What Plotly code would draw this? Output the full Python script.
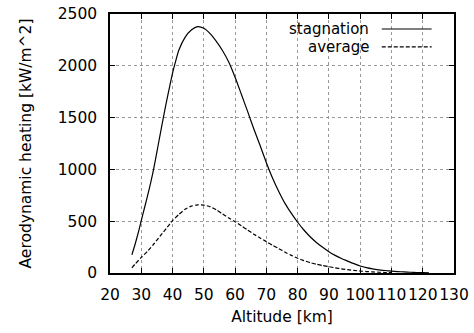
import plotly.graph_objects as go

# Data
alt_stag = [27, 28, 29, 30, 31, 32, 33, 34, 35, 36, 37, 38, 39, 40, 41, 42, 44, 46, 48, 50, 52,
            54, 56, 58, 60, 62, 64, 66, 68, 70, 72, 74, 76, 78, 80, 82, 84, 86, 88, 90, 92, 94,
            96, 98, 100, 102, 104, 106, 108, 110, 112, 114, 116, 118, 120, 122]
q_stag = [175, 275, 385, 505, 625, 745, 870, 1010, 1170, 1330, 1490, 1645, 1790, 1930, 2045,
          2150, 2275, 2345, 2378, 2362, 2310, 2235, 2145, 2035, 1890, 1725, 1560, 1390, 1230,
          1065, 915, 785, 670, 575, 490, 415, 350, 295, 248, 206, 170, 140, 115, 90, 68, 52, 40,
          31, 24, 19, 14, 10, 7, 5, 3, 2]

alt_avg = [27, 28, 30, 32, 34, 36, 38, 40, 42, 44, 46, 48, 50, 52, 54, 56, 58, 60, 62, 64, 66,
           68, 70, 72, 74, 76, 78, 80, 82, 84, 86, 88, 90, 92, 94, 96, 98, 100, 102, 104, 106,
           108, 110]
q_avg = [50, 85, 150, 210, 280, 355, 430, 505, 565, 615, 645, 658, 655, 640, 610, 570, 530, 495,
         455, 415, 375, 338, 303, 268, 235, 200, 170, 142, 120, 100, 85, 72, 61, 50, 40, 32, 25,
         19, 14, 10, 7, 5, 3]

x_ticks = [20, 30, 40, 50, 60, 70, 80, 90, 100, 110, 120, 130]
y_ticks = [0, 500, 1000, 1500, 2000, 2500]
series_names = ["stagnation", "average"]

FONT = "DejaVu Sans"
FS = 15.5

fig = go.Figure()
fig.add_trace(go.Scatter(x=alt_stag, y=q_stag, mode="lines", name=series_names[0],
                         line=dict(color="black", width=1.2, shape="spline", smoothing=0.6),
                         showlegend=False))
fig.add_trace(go.Scatter(x=alt_avg, y=q_avg, mode="lines", name=series_names[1],
                         line=dict(color="black", width=1.2, dash="4px,2px", shape="spline", smoothing=0.6),
                         showlegend=False))

# gnuplot-style legend: text right-aligned, line sample on the right
legend_rows = [(series_names[0], "solid", 0.942), (series_names[1], "4px,2px", 0.873)]
for name, dash, yy in legend_rows:
    fig.add_annotation(x=0.755, y=yy, xref="paper", yref="paper", text=name, showarrow=False,
                       xanchor="right", yanchor="middle", borderpad=0,
                       font=dict(family=FONT, size=15, color="black"))
    fig.add_shape(type="line", xref="paper", yref="paper", x0=0.79, x1=0.935, y0=yy, y1=yy,
                  line=dict(color="black", width=1.2, dash=dash))

axis_common = dict(showline=True, linecolor="black", linewidth=1.5, mirror="allticks",
                   ticks="inside", ticklen=5, tickcolor="black", tickwidth=1,
                   showgrid=True, gridcolor="#999999", griddash="dot", gridwidth=1,
                   zeroline=False, automargin=False, tickangle=0,
                   tickfont=dict(family=FONT, size=FS, color="black"))

fig.update_xaxes(range=[20, 130], tickvals=x_ticks, ticktext=[str(v) for v in x_ticks],
                 title=dict(text="Altitude [km]", font=dict(family=FONT, size=FS, color="black"), standoff=8),
                 ticklabelstandoff=7, **axis_common)
fig.update_yaxes(range=[0, 2500], tickvals=y_ticks, ticktext=[str(v) for v in y_ticks],
                 title=dict(text="Aerodynamic heating [kW/m^2]", font=dict(family=FONT, size=FS, color="black"), standoff=22),
                 ticklabelstandoff=8, **axis_common)

fig.update_layout(width=474, height=333, margin=dict(l=110, r=20, t=14, b=60),
                  plot_bgcolor="white", paper_bgcolor="white",
                  font=dict(family=FONT, size=FS, color="black"))

fig.write_html("out.html")
